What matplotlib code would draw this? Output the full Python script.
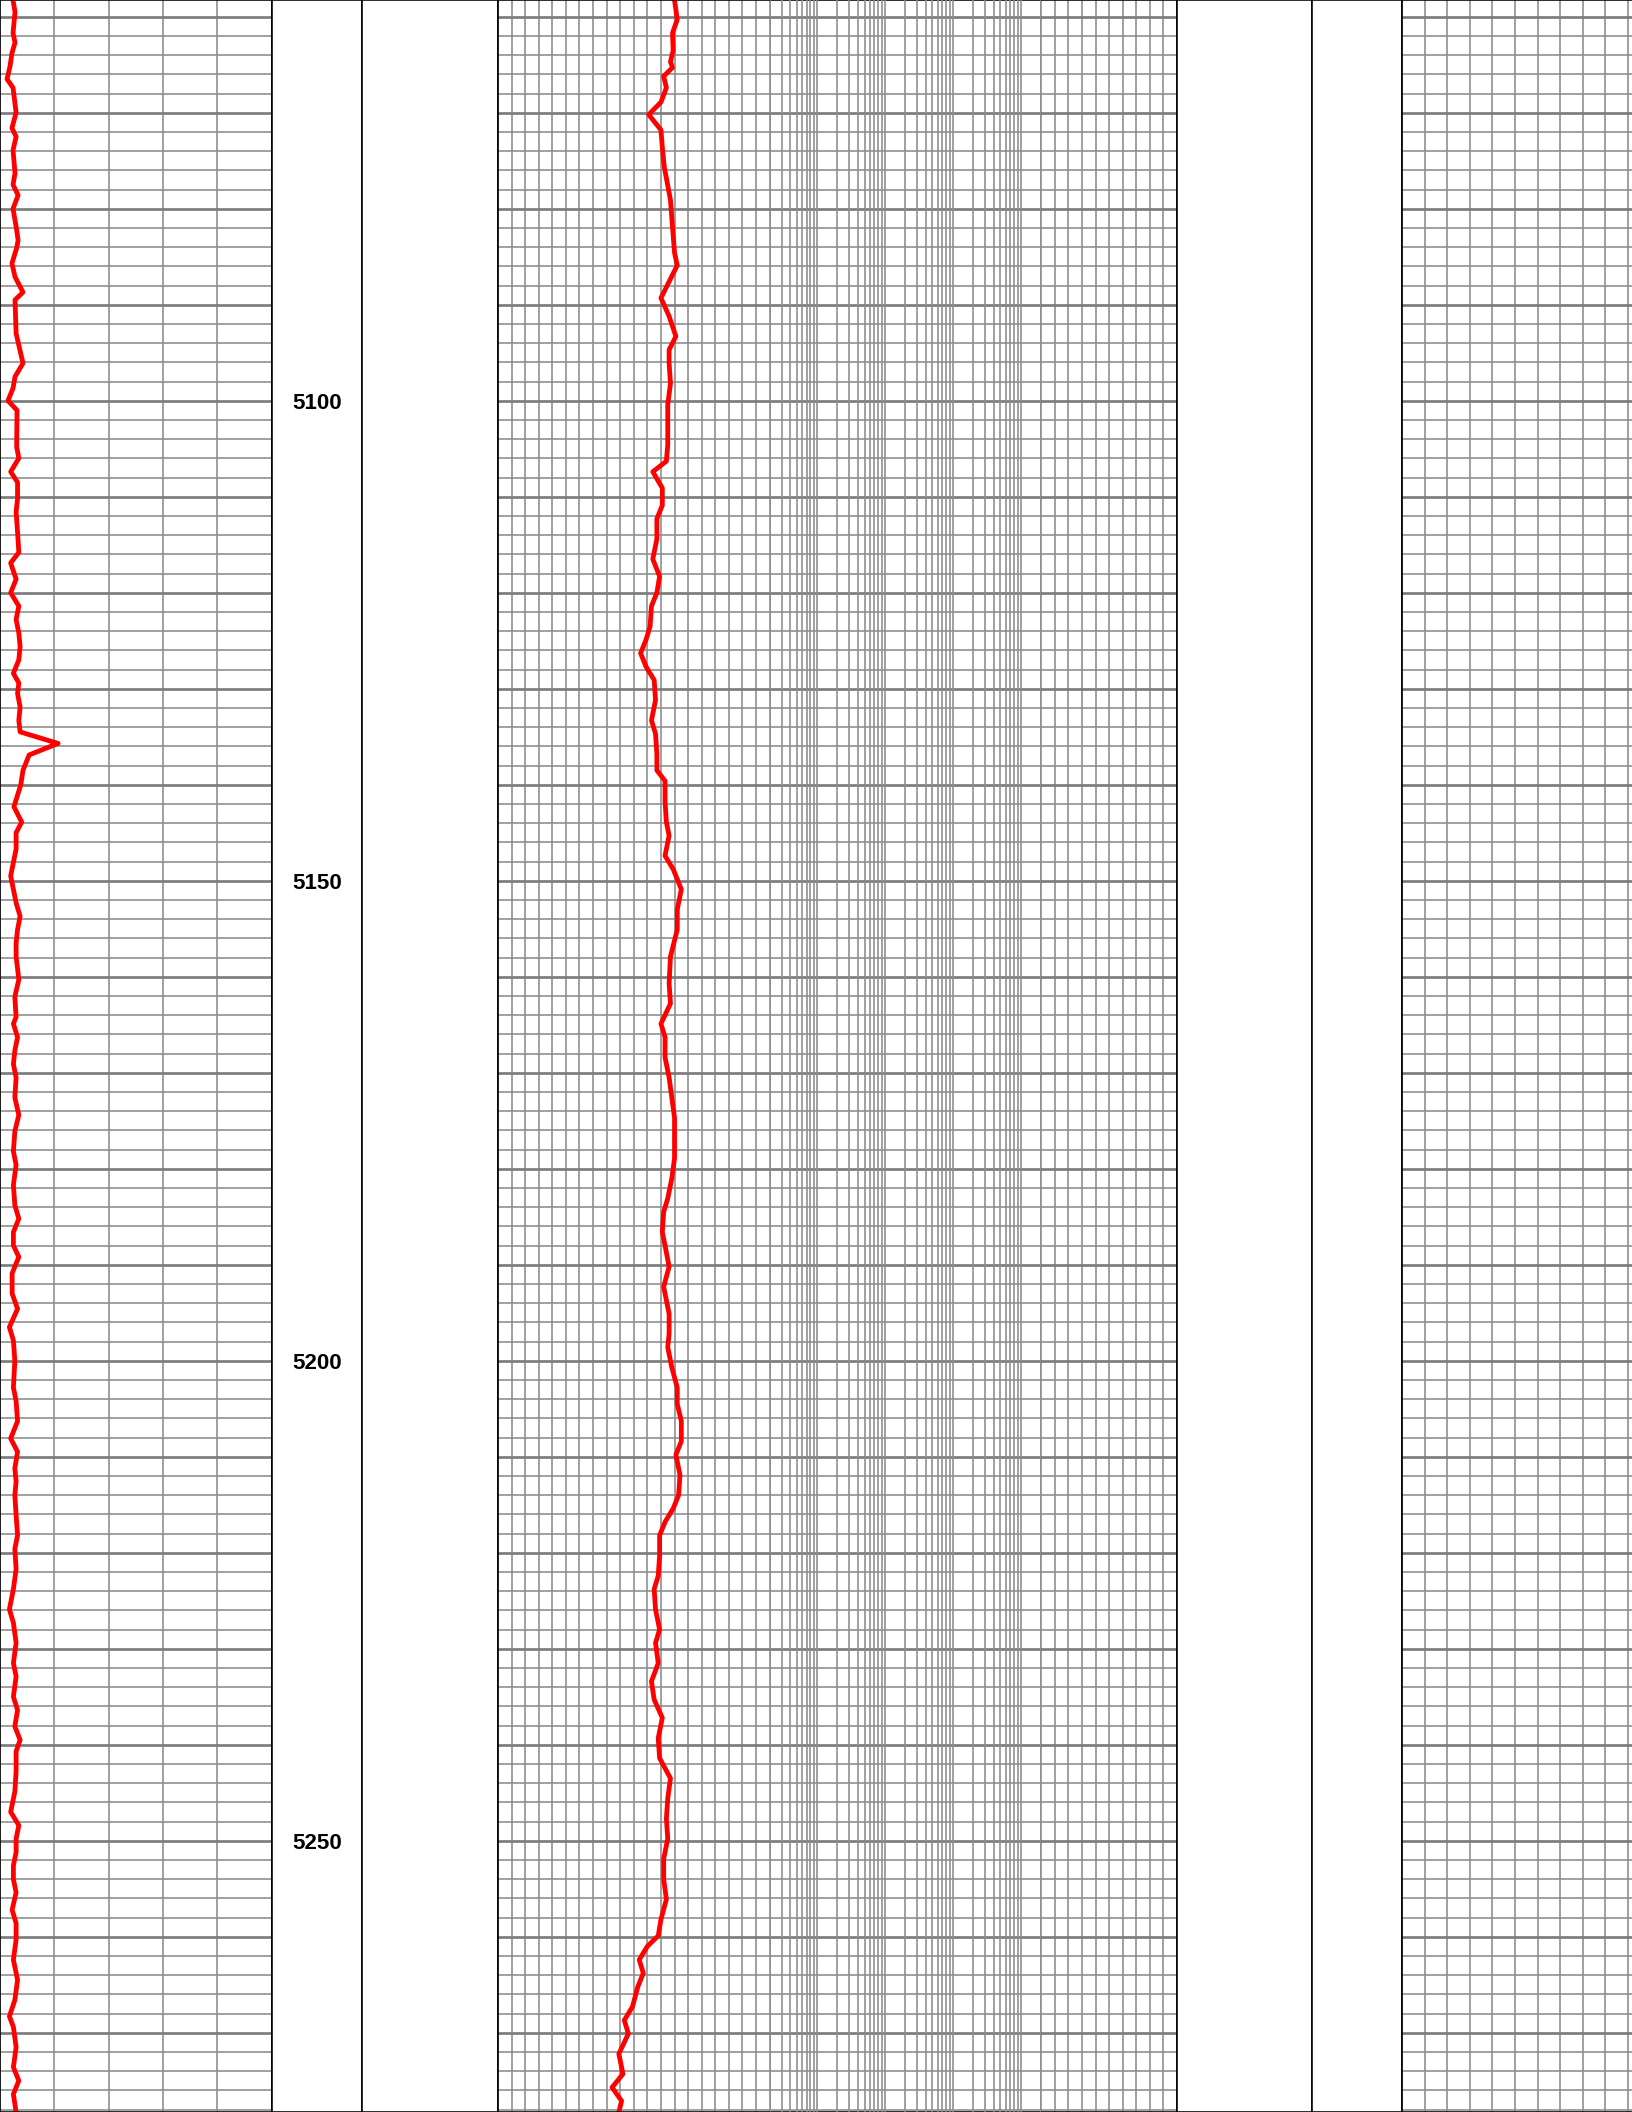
import numpy as np
import matplotlib
matplotlib.use('Agg')
import matplotlib.pyplot as plt
from matplotlib.ticker import MultipleLocator, FixedLocator, LogLocator, NullLocator

# depth window (ft)
top_depth, base_depth = 5058.26, 5278.26
depth_labels = [5100, 5150, 5200, 5250]

# track 1 curve (scale 0-150)
gr_depth = [5058.3, 5059.5, 5061.7, 5062.7, 5063.8, 5065.2, 5066.5, 5067.4, 5070.0, 5071.6,
            5072.5, 5073.9, 5076.3, 5077.5, 5078.6, 5080.0, 5082.2, 5083.3, 5084.1, 5085.7,
            5087.1, 5088.7, 5089.5, 5093.0, 5094.7, 5096.1, 5097.5, 5098.7, 5100.0, 5101.0,
            5104.8, 5106.0, 5107.4, 5108.5, 5110.2, 5111.6, 5113.7, 5115.8, 5116.9, 5118.6,
            5120.0, 5121.4, 5122.8, 5124.2, 5125.6, 5127.0, 5128.4, 5129.4, 5130.5, 5131.9,
            5133.3, 5134.5, 5135.7, 5136.9, 5138.5, 5140.0, 5142.3, 5143.9, 5145.0, 5146.7,
            5148.1, 5149.5, 5150.9, 5152.3, 5153.7, 5155.1, 5156.5, 5157.9, 5160.3, 5162.1,
            5164.2, 5164.9, 5166.3, 5167.7, 5169.1, 5170.5, 5172.6, 5174.4, 5176.1, 5178.2,
            5179.6, 5181.7, 5183.8, 5185.2, 5186.6, 5188.0, 5189.2, 5190.9, 5193.0, 5194.6,
            5196.5, 5197.9, 5200.0, 5202.8, 5204.2, 5206.3, 5208.1, 5209.5, 5211.2, 5212.6,
            5214.0, 5216.1, 5218.2, 5219.6, 5221.7, 5223.8, 5225.9, 5227.3, 5229.4, 5231.5,
            5232.9, 5235.0, 5236.4, 5238.1, 5239.5, 5240.7, 5242.8, 5244.9, 5247.0, 5248.4,
            5249.8, 5251.2, 5252.6, 5254.0, 5255.4, 5257.2, 5258.6, 5260.3, 5262.4, 5264.5,
            5266.6, 5268.3, 5269.4, 5271.5, 5273.6, 5275.0, 5276.4, 5278.3]
gr_value = [7.2, 8.3, 7.2, 8.3, 6.6, 5.5, 3.9, 7.2, 8.9, 6.6,
            8.9, 7.2, 8.3, 7.2, 10.0, 7.2, 9.2, 10.0, 9.2, 6.6,
            8.3, 12.7, 8.3, 8.9, 11.0, 12.7, 8.3, 7.2, 4.4, 9.4,
            9.2, 10.4, 5.9, 9.7, 9.7, 8.9, 9.7, 10.4, 5.9, 8.9,
            5.9, 10.4, 8.9, 10.4, 11.1, 10.4, 7.4, 10.4, 9.7, 11.1,
            10.4, 11.1, 32.1, 16.1, 12.7, 11.5, 7.7, 12.0, 8.9, 8.9,
            7.4, 5.9, 7.4, 8.9, 11.1, 9.7, 8.9, 8.9, 10.4, 8.2,
            8.9, 7.4, 9.7, 8.2, 7.4, 8.9, 8.2, 10.4, 8.2, 7.4,
            8.9, 7.4, 8.2, 10.4, 7.4, 7.4, 10.4, 6.7, 6.7, 9.7,
            5.2, 7.4, 8.2, 7.4, 8.9, 9.7, 5.9, 9.7, 8.2, 8.9,
            8.2, 8.9, 9.7, 8.2, 8.9, 7.4, 5.2, 7.4, 8.9, 7.4,
            8.9, 7.4, 9.7, 8.2, 11.1, 8.9, 8.9, 8.2, 5.9, 10.4,
            8.9, 8.9, 7.4, 7.4, 8.9, 6.7, 8.9, 8.9, 7.4, 9.7,
            8.2, 5.2, 7.4, 8.9, 7.4, 10.4, 7.4, 8.9]

# curve in the left (linear) part of the log track (scale 0-50)
rs_depth = [5058.3, 5060.3, 5061.7, 5063.5, 5064.7, 5065.3, 5066.2, 5067.4, 5068.9, 5070.2,
            5071.8, 5073.6, 5075.7, 5077.2, 5079.1, 5081.9, 5084.6, 5085.9, 5089.3, 5091.2,
            5093.3, 5094.7, 5096.1, 5098.2, 5100.4, 5102.5, 5104.6, 5106.3, 5107.4, 5109.1,
            5110.9, 5112.3, 5114.4, 5116.5, 5118.3, 5120.0, 5121.4, 5123.5, 5124.9, 5126.3,
            5127.7, 5129.1, 5131.2, 5133.3, 5134.7, 5136.8, 5138.5, 5139.6, 5141.7, 5143.9,
            5145.3, 5147.4, 5148.8, 5150.9, 5153.0, 5155.1, 5157.9, 5160.7, 5162.8, 5164.9,
            5166.3, 5168.4, 5170.5, 5172.6, 5174.7, 5176.8, 5178.9, 5181.0, 5183.1, 5184.5,
            5186.6, 5188.0, 5190.2, 5192.3, 5193.7, 5195.1, 5197.2, 5198.6, 5200.7, 5202.8,
            5204.5, 5206.3, 5208.4, 5209.8, 5211.9, 5214.0, 5215.4, 5216.8, 5218.2, 5220.3,
            5222.4, 5223.8, 5225.9, 5228.0, 5229.4, 5231.5, 5233.4, 5235.3, 5237.2, 5239.3,
            5241.4, 5243.5, 5245.6, 5247.7, 5249.8, 5251.9, 5254.0, 5256.1, 5258.2, 5259.9,
            5261.0, 5262.4, 5263.8, 5265.2, 5267.3, 5268.7, 5270.1, 5272.2, 5274.3, 5275.7,
            5277.1, 5278.3]
rs_value = [13.0, 13.2, 12.85, 12.9, 12.7, 12.85, 12.2, 12.4, 12.0, 11.1,
            12.0, 12.1, 12.25, 12.45, 12.7, 12.85, 13.0, 13.2, 12.0, 12.6,
            13.1, 12.6, 12.6, 12.7, 12.5, 12.5, 12.5, 12.4, 11.4, 12.1,
            12.1, 11.7, 11.7, 11.4, 11.9, 11.7, 11.3, 11.2, 10.9, 10.5,
            10.9, 11.5, 11.6, 11.3, 11.6, 11.7, 11.7, 12.3, 12.3, 12.4,
            12.6, 12.3, 12.9, 13.5, 13.2, 13.2, 12.7, 12.6, 12.7, 12.0,
            12.3, 12.3, 12.6, 12.8, 13.0, 13.0, 13.0, 12.8, 12.5, 12.2,
            12.1, 12.3, 12.6, 12.2, 12.4, 12.6, 12.6, 12.5, 12.8, 13.2,
            13.2, 13.5, 13.5, 13.1, 13.4, 13.3, 12.9, 12.3, 11.9, 11.9,
            11.8, 11.5, 11.6, 11.9, 11.6, 11.8, 11.3, 11.5, 12.1, 11.8,
            11.9, 12.7, 12.5, 12.4, 12.5, 12.2, 12.2, 12.4, 12.0, 11.8,
            11.0, 10.4, 10.7, 10.3, 9.9, 9.3, 9.6, 8.9, 9.2, 8.4,
            9.1, 8.9]

W, H = 1632, 2112
fig = plt.figure(figsize=(8.5, 11), dpi=192)

GRID_MAJ = dict(color='#7a7a7a', lw=1.0)
GRID_MIN = dict(color='#8c8c8c', lw=0.6)
CURVE = dict(color='red', lw=1.8, solid_joinstyle='round', solid_capstyle='round')


def track(x0, x1, hgrid=True):
    ax = fig.add_axes([x0 / W, 0, (x1 - x0) / W, 1])
    ax.set_ylim(base_depth, top_depth)
    ax.set_axisbelow(True)
    if hgrid:
        ax.yaxis.set_major_locator(MultipleLocator(10))
        ax.yaxis.set_minor_locator(MultipleLocator(2))
        ax.grid(which='major', axis='y', **GRID_MAJ)
        ax.grid(which='minor', axis='y', **GRID_MIN)
    else:
        ax.yaxis.set_major_locator(NullLocator())
    ax.tick_params(which='both', length=0, labelleft=False, labelbottom=False)
    for s in ax.spines.values():
        s.set_color('black')
        s.set_linewidth(0.6)
    return ax


# track 1
ax1 = track(0, 271.5)
ax1.set_xlim(0, 150)
ax1.xaxis.set_major_locator(MultipleLocator(30))
ax1.grid(which='major', axis='x', **GRID_MIN)
ax1.plot(gr_value, gr_depth, **CURVE)

# depth track
axd = track(271.5, 362, hgrid=False)
axd.set_xlim(0, 1)
axd.xaxis.set_major_locator(NullLocator())
for d in depth_labels:
    axd.text(0.5, d, str(d), ha='center', va='center_baseline', fontsize=8.4,
             fontweight='bold', family='Liberation Sans')

# blank track
axb1 = track(362, 498, hgrid=False)
axb1.xaxis.set_major_locator(NullLocator())

# log track: linear grid on the flanks, log grid in the middle
ax2 = track(498, 1177)
ax2.set_xlim(0, 50)
ax2.xaxis.set_major_locator(FixedLocator(list(range(0, 21)) + list(range(40, 51))))
ax2.grid(which='major', axis='x', **GRID_MIN)
ax2.plot(rs_value, rs_depth, **CURVE)

axl = fig.add_axes([769.6 / W, 0, 271.6 / W, 1])
axl.set_xscale('log')
axl.set_xlim(0.2, 2000)
axl.set_ylim(base_depth, top_depth)
axl.patch.set_visible(False)
for s in axl.spines.values():
    s.set_visible(False)
axl.xaxis.set_major_locator(LogLocator(base=10, numticks=10))
axl.xaxis.set_minor_locator(LogLocator(base=10, subs=np.arange(2, 10), numticks=20))
axl.yaxis.set_major_locator(NullLocator())
axl.tick_params(which='both', length=0, labelbottom=False, labelleft=False)
axl.grid(which='major', axis='x', **GRID_MIN)
axl.grid(which='minor', axis='x', **GRID_MIN)

# blank tracks on the right
axb2 = track(1177, 1312, hgrid=False)
axb2.xaxis.set_major_locator(NullLocator())
axb3 = track(1312, 1402, hgrid=False)
axb3.xaxis.set_major_locator(NullLocator())

# right track (runs past the page edge)
ax3 = track(1402, 1673)
ax3.set_xlim(0, 12)
ax3.xaxis.set_major_locator(MultipleLocator(1))
ax3.grid(which='major', axis='x', **GRID_MIN)

fig.savefig('out.png', dpi=192)
